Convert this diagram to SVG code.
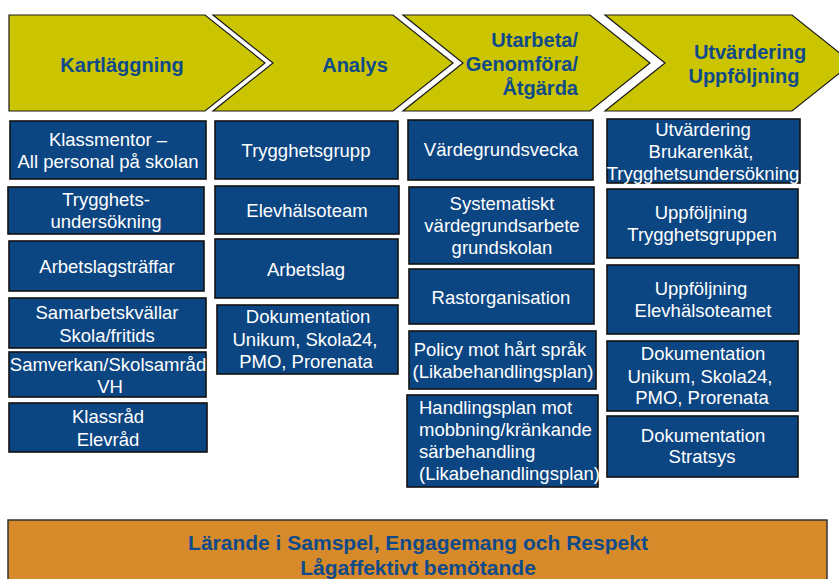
<svg xmlns="http://www.w3.org/2000/svg" width="839" height="579" viewBox="0 0 839 579">
<defs>
<style>
.chev{fill:#CBC400;stroke:#1a1a1a;stroke-width:1.2}
.box{fill:#0C4682;stroke:#111;stroke-width:1.6}
.bar{fill:#D78A2A;stroke:#333;stroke-width:1.5}
.h{font-family:"Liberation Sans",Arial,sans-serif;font-weight:bold;font-size:20px;fill:#0F4A8A}
.t{font-family:"Liberation Sans",Arial,sans-serif;font-size:18.5px;fill:#fff;text-anchor:middle}
.tl{font-family:"Liberation Sans",Arial,sans-serif;font-size:18.5px;fill:#fff}
.o{font-family:"Liberation Sans",Arial,sans-serif;font-weight:bold;font-size:21px;fill:#0F4A8A;text-anchor:middle}
</style>
</defs>
<rect width="839" height="579" fill="#fff"/>
<g id="phase1"><polygon class="chev" points="9,15 205,15 265,63 205,111 9,111"/><text class="h" x="122" y="72" text-anchor="middle">Kartläggning</text></g>
<g id="phase2"><polygon class="chev" points="213,15 393,15 453,63 393,111 213,111 273,63"/><text class="h" x="355" y="72" text-anchor="middle">Analys</text></g>
<g id="phase3"><polygon class="chev" points="403,15 590,15 650,63 590,111 403,111 463,63"/><text class="h" x="578" text-anchor="end"><tspan x="578" y="47">Utarbeta/</tspan><tspan x="578" y="71">Genomföra/</tspan><tspan x="578" y="95">Åtgärda</tspan></text></g>
<g id="phase4"><polygon class="chev" points="605,15 792,15 852,63 792,111 605,111 665,63"/><text class="h" text-anchor="middle"><tspan x="750" y="59">Utvärdering</tspan><tspan x="744" y="83">Uppföljning</tspan></text></g>

<g id="c1b1"><rect class="box" x="10" y="121" width="196" height="58"/><text class="t"><tspan x="108" y="146">Klassmentor –</tspan><tspan x="108" y="168">All personal på skolan</tspan></text></g>
<g id="c1b2"><rect class="box" x="8" y="187" width="196" height="47"/><text class="t"><tspan x="106" y="206">Trygghets-</tspan><tspan x="106" y="228">undersökning</tspan></text></g>
<g id="c1b3"><rect class="box" x="9" y="241" width="195" height="50"/><text class="t" x="107" y="273">Arbetslagsträffar</text></g>
<g id="c1b4"><rect class="box" x="9" y="298" width="197" height="50"/><text class="t"><tspan x="107" y="319">Samarbetskvällar</tspan><tspan x="107" y="342">Skola/fritids</tspan></text></g>
<g id="c1b5"><rect class="box" x="9" y="352" width="197" height="45"/><text class="t"><tspan x="108" y="371">Samverkan/Skolsamråd</tspan><tspan x="110" y="393">VH</tspan></text></g>
<g id="c1b6"><rect class="box" x="9" y="403" width="198" height="49"/><text class="t"><tspan x="108" y="423">Klassråd</tspan><tspan x="108" y="446">Elevråd</tspan></text></g>

<g id="c2b1"><rect class="box" x="215" y="121" width="183" height="58"/><text class="t" x="306" y="157">Trygghetsgrupp</text></g>
<g id="c2b2"><rect class="box" x="215" y="186" width="184" height="48"/><text class="t" x="307" y="217">Elevhälsoteam</text></g>
<g id="c2b3"><rect class="box" x="215" y="239" width="183" height="59"/><text class="t" x="306" y="276">Arbetslag</text></g>
<g id="c2b4"><rect class="box" x="217" y="305" width="181" height="69"/><text class="t"><tspan x="308" y="323">Dokumentation</tspan><tspan x="305" y="346">Unikum, Skola24,</tspan><tspan x="306" y="368">PMO, Prorenata</tspan></text></g>

<g id="c3b1"><rect class="box" x="408" y="120" width="185" height="60"/><text class="t" x="501" y="156">Värdegrundsvecka</text></g>
<g id="c3b2"><rect class="box" x="409" y="187" width="185" height="77"/><text class="t"><tspan x="502" y="210">Systematiskt</tspan><tspan x="502" y="232">värdegrundsarbete</tspan><tspan x="502" y="254">grundskolan</tspan></text></g>
<g id="c3b3"><rect class="box" x="409" y="269" width="185" height="55"/><text class="t" x="501" y="304">Rastorganisation</text></g>
<g id="c3b4"><rect class="box" x="409" y="331" width="187" height="58"/><text class="t"><tspan x="500" y="356">Policy mot hårt språk</tspan><tspan x="503" y="378">(Likabehandlingsplan)</tspan></text></g>
<g id="c3b5"><rect class="box" x="407" y="395" width="191" height="92"/><text class="tl"><tspan x="419" y="414">Handlingsplan mot</tspan><tspan x="419" y="436">mobbning/kränkande</tspan><tspan x="419" y="458">särbehandling</tspan><tspan x="419" y="480">(Likabehandlingsplan)</tspan></text></g>

<g id="c4b1"><rect class="box" x="607" y="119" width="193" height="64"/><text class="t"><tspan x="703" y="136">Utvärdering</tspan><tspan x="701" y="158">Brukarenkät,</tspan><tspan x="703" y="180">Trygghetsundersökning</tspan></text></g>
<g id="c4b2"><rect class="box" x="607" y="189" width="191" height="69"/><text class="t"><tspan x="701" y="219">Uppföljning</tspan><tspan x="702" y="241">Trygghetsgruppen</tspan></text></g>
<g id="c4b3"><rect class="box" x="607" y="265" width="192" height="69"/><text class="t"><tspan x="701" y="295">Uppföljning</tspan><tspan x="703" y="317">Elevhälsoteamet</tspan></text></g>
<g id="c4b4"><rect class="box" x="607" y="341" width="191" height="70"/><text class="t"><tspan x="703" y="360">Dokumentation</tspan><tspan x="700" y="383">Unikum, Skola24,</tspan><tspan x="702" y="404">PMO, Prorenata</tspan></text></g>
<g id="c4b5"><rect class="box" x="607" y="416" width="191" height="61"/><text class="t"><tspan x="703" y="442">Dokumentation</tspan><tspan x="702" y="463">Stratsys</tspan></text></g>

<g id="foundation"><rect class="bar" x="8" y="520" width="819" height="70"/><text class="o"><tspan x="418" y="550">Lärande i Samspel, Engagemang och Respekt</tspan><tspan x="418" y="575">Lågaffektivt bemötande</tspan></text></g>
<g id="connectors"/>
</svg>
